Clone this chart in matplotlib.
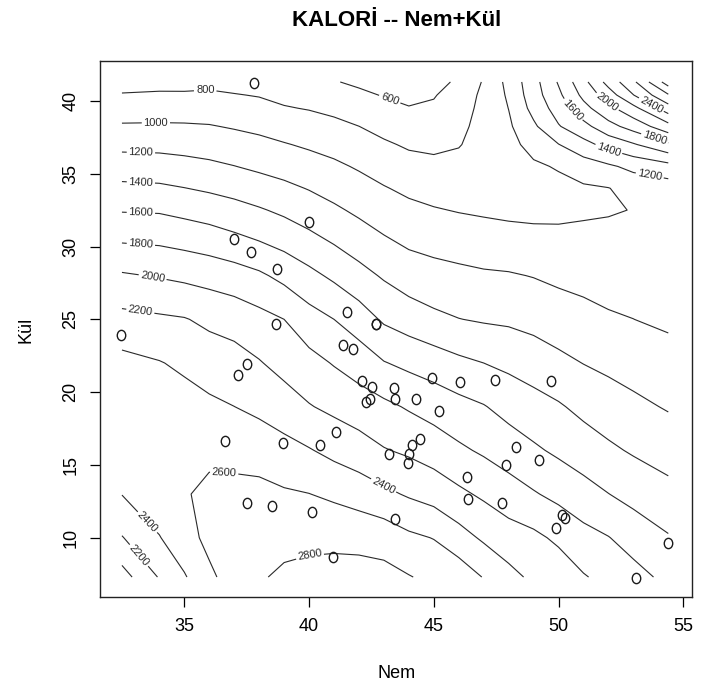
import numpy as np
import matplotlib
matplotlib.use("Agg")
import matplotlib.pyplot as plt
from matplotlib.markers import MarkerStyle
from matplotlib.transforms import Affine2D

plt.rcParams['font.family'] = ['Liberation Sans', 'DejaVu Sans']

# observed points (Nem, Kül)
nem = [37.79, 40.00, 36.99, 37.66, 38.73, 41.51, 42.67, 42.69, 38.66, 32.45,
       37.50, 37.16, 41.37, 41.77, 42.13, 42.51, 43.40, 42.27, 42.44, 43.45,
       36.63, 38.94, 40.44, 41.07, 43.20, 37.50, 38.50, 40.11, 43.45, 40.97,
       44.92, 46.05, 47.45, 49.69, 44.29, 45.21, 44.45, 44.11, 44.01, 43.95,
       48.28, 49.22, 47.89, 46.32, 46.36, 47.72, 50.13, 50.26, 49.89, 54.40,
       53.09]
kul = [41.21, 31.70, 30.49, 29.64, 28.45, 25.52, 24.68, 24.66, 24.68, 23.92,
       21.91, 21.17, 23.23, 22.94, 20.78, 20.33, 20.26, 19.34, 19.53, 19.53,
       16.66, 16.52, 16.37, 17.28, 15.75, 12.36, 12.18, 11.79, 11.26, 8.65,
       20.95, 20.71, 20.83, 20.78, 19.51, 18.72, 16.76, 16.37, 15.75, 15.15,
       16.25, 15.34, 15.00, 14.19, 12.64, 12.40, 11.56, 11.33, 10.65, 9.62,
       7.21]

# fitted KALORİ surface:
# one list per Nem value, entries follow grid_kul from bottom to top
grid_nem = [32.5, 34, 35, 36, 37, 38, 39, 40, 41, 42, 43, 44, 45, 46, 47, 48,
            49, 50, 51, 52, 53, 54.4]
grid_kul = [7.3, 10, 13, 16, 19, 22, 25, 28, 31, 32.5, 34, 35.5, 37, 38.25,
            39.5, 40.4, 41.3]
kalori_by_nem = [
    [1920, 2190, 2405, 2490, 2500, 2460, 2258, 2022, 1725, 1587, 1445, 1298, 1149, 1023, 893, 814, 725],
    [2215, 2390, 2540, 2540, 2495, 2410, 2230, 1986, 1715, 1579, 1433, 1288, 1145, 1026, 900, 825, 740],
    [2380, 2540, 2585, 2560, 2480, 2363, 2211, 1958, 1685, 1544, 1404, 1265, 1132, 1023, 898, 820, 750],
    [2570, 2640, 2640, 2560, 2437, 2310, 2158, 1928, 1648, 1509, 1372, 1239, 1113, 1011, 906, 830, 753],
    [2668, 2665, 2640, 2555, 2401, 2276, 2123, 1888, 1598, 1467, 1335, 1204, 1084, 984, 882, 809, 736],
    [2780, 2720, 2660, 2508, 2358, 2213, 2063, 1833, 1539, 1418, 1290, 1164, 1051, 955, 856, 790, 730],
    [2835, 2740, 2623, 2466, 2292, 2135, 2000, 1746, 1481, 1364, 1243, 1126, 1012, 912, 812, 755, 700],
    [2860, 2751, 2603, 2413, 2212, 2065, 1880, 1652, 1412, 1300, 1190, 1082, 973, 881, 790, 727, 665],
    [2860, 2760, 2561, 2346, 2154, 1987, 1800, 1563, 1334, 1231, 1132, 1035, 934, 848, 755, 683, 610],
    [2870, 2745, 2510, 2289, 2096, 1911, 1699, 1466, 1260, 1164, 1072, 980, 882, 801, 704, 635, 570],
    [2860, 2720, 2444, 2212, 2044, 1810, 1572, 1378, 1187, 1099, 1012, 919, 826, 741, 653, 590, 540],
    [2810, 2640, 2377, 2168, 1980, 1753, 1505, 1303, 1130, 1047, 960, 869, 776, 695, 608, 560, 525],
    [2753, 2593, 2322, 2109, 1921, 1703, 1444, 1269, 1101, 1013, 929, 844, 763, 698, 633, 585, 560],
    [2720, 2478, 2240, 2034, 1862, 1643, 1404, 1247, 1075, 990, 922, 855, 790, 760, 730, 703, 620],
    [2590, 2370, 2167, 1972, 1811, 1600, 1381, 1226, 1053, 975, 935, 900, 870, 856, 844, 836, 819],
    [2460, 2288, 2091, 1903, 1733, 1556, 1368, 1216, 1039, 960, 930, 935, 950, 970, 1003, 1029, 1058],
    [2360, 2245, 2017, 1830, 1675, 1506, 1338, 1193, 1027, 955, 945, 975, 1055, 1165, 1265, 1310, 1328],
    [2320, 2162, 1947, 1765, 1621, 1447, 1298, 1161, 1022, 960, 955, 1014, 1194, 1386, 1489, 1558, 1619],
    [2215, 2066, 1874, 1702, 1548, 1396, 1262, 1140, 1027, 975, 975, 1098, 1334, 1537, 1735, 1850, 1940],
    [2142, 2007, 1803, 1634, 1493, 1357, 1222, 1124, 1034, 985, 995, 1168, 1468, 1732, 1945, 2102, 2270],
    [2068, 1919, 1737, 1579, 1444, 1320, 1201, 1122, 1044, 1005, 1063, 1253, 1579, 1880, 2141, 2395, 2560],
    [1950, 1815, 1660, 1516, 1384, 1277, 1165, 1070, 1060, 1090, 1100, 1330, 1765, 2126, 2516, 2780, 3100],
]
levels = [600, 800, 1000, 1200, 1400, 1600, 1800, 2000, 2200, 2400, 2600, 2800, 3000]

title = "KALORİ -- Nem+Kül"
xlabel = "Nem"
ylabel = "Kül"
xticks = [35, 40, 45, 50, 55]
yticks = [10, 15, 20, 25, 30, 35, 40]

fig = plt.figure(figsize=(7.01, 6.91), dpi=100)
ax = fig.add_axes([100/701, 1-597/691, 592/701, 536/691])

X, Y = np.meshgrid(grid_nem, grid_kul)
Z = np.array(kalori_by_nem, dtype=float).T
cs = ax.contour(X, Y, Z, levels=levels, colors='#2a2a2a', linewidths=0.8)

label_pos = [(35.84, 40.7), (33.86, 38.53), (33.26, 36.48), (33.26, 34.47),
             (33.26, 32.36), (33.26, 30.19), (33.73, 27.9), (33.26, 25.84),
             (43.23, 40.1), (42.95, 13.47), (36.6, 14.5), (40.02, 9.0),
             (33.46, 10.97), (33.19, 8.8), (50.6, 39.46), (51.94, 39.9),
             (53.74, 39.8), (53.8, 37.17), (52.0, 36.6), (53.67, 35.0)]
ax.clabel(cs, inline=True, fmt='%d', fontsize=8, manual=label_pos,
          inline_spacing=3)

mk = MarkerStyle('o', transform=Affine2D().scale(0.78, 0.95))
ax.plot(nem, kul, linestyle='none', marker=mk, markersize=7.8,
        markerfacecolor='none', markeredgecolor='#1a1a1a', markeredgewidth=1.0)

ax.set_xlim(31.62, 55.35)
ax.set_ylim(5.93, 42.74)
ax.set_xticks(xticks)
ax.set_yticks(yticks)
ax.set_xticklabels([str(t) for t in xticks], fontsize=13)
ax.set_yticklabels([str(t) for t in yticks], fontsize=13, rotation=90, va='center')
ax.tick_params(direction='out', length=7, width=0.9, pad=8)
for s in ax.spines.values():
    s.set_linewidth(1.0)
    s.set_color('#222222')

fig.text(397/701, 1-21/691, title, ha='center', va='center', fontsize=16,
         fontweight='bold')
fig.text(397/701, 1-673/691, xlabel, ha='center', va='center', fontsize=13)
fig.text(26/701, 1-330/691, ylabel, ha='center', va='center', fontsize=13,
         rotation=90)

fig.savefig('out.png', dpi=100)
